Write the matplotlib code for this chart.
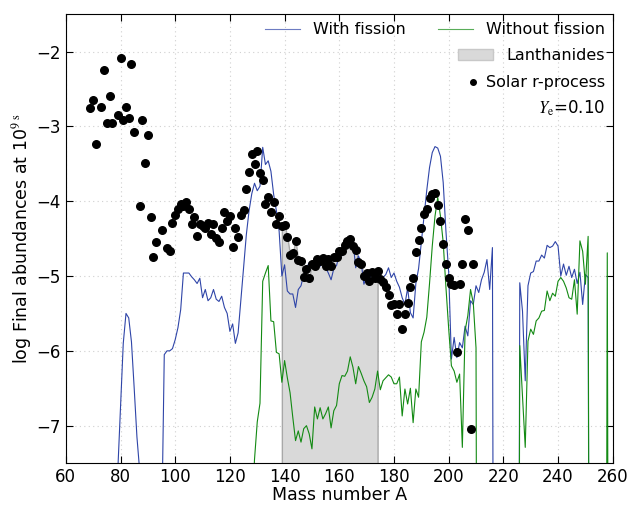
import numpy as np
import matplotlib
matplotlib.use("Agg")
import matplotlib.pyplot as plt
from matplotlib.patches import Patch
from matplotlib.lines import Line2D

plt.rcParams['mathtext.fontset'] = 'stix'
plt.rcParams['font.size'] = 12

LOW = -20.0  # below the plotted range

# solar r-process abundances
solar_A = [69, 70, 71, 73, 74, 75, 76, 77, 79, 80, 81, 82, 83, 84, 85, 87, 88, 89, 90,
           91, 92, 93, 95, 97, 98, 99, 100, 101, 102, 103, 104, 105, 106, 107, 108, 109,
           110, 111, 112, 113, 114, 115, 116, 117, 118, 119, 120, 121, 122, 123, 124,
           125, 126, 127, 128, 129, 130, 131, 132, 133, 134, 135, 136, 137, 138, 139,
           140, 141, 142, 143, 144, 145, 146, 147, 148, 149, 150, 151, 152, 153, 154,
           155, 156, 157, 158, 159, 160, 161, 162, 163, 164, 165, 166, 167, 168, 169,
           170, 171, 172, 173, 174, 175, 176, 177, 178, 179, 180, 181, 182, 183, 184,
           185, 186, 187, 188, 189, 190, 191, 192, 193, 194, 195, 196, 197, 198, 199,
           200, 201, 202, 203, 204, 205, 206, 207, 208, 209]
solar_Y = [-2.75, -2.65, -3.24, -2.74, -2.24, -2.96, -2.60, -2.96, -2.85, -2.09, -2.92,
           -2.74, -2.89, -2.16, -3.08, -4.07, -2.92, -3.49, -3.12, -4.21, -4.74, -4.54,
           -4.39, -4.62, -4.66, -4.29, -4.18, -4.10, -4.04, -4.06, -4.01, -4.11, -4.30,
           -4.21, -4.46, -4.30, -4.33, -4.36, -4.29, -4.44, -4.30, -4.49, -4.55, -4.36,
           -4.15, -4.27, -4.20, -4.61, -4.36, -4.48, -4.19, -4.12, -3.84, -3.61, -3.37,
           -3.50, -3.33, -3.62, -3.72, -4.04, -3.95, -4.14, -4.01, -4.30, -4.20, -4.33,
           -4.32, -4.48, -4.72, -4.69, -4.53, -4.79, -4.80, -5.01, -4.91, -5.02, -4.84,
           -4.86, -4.77, -4.80, -4.76, -4.86, -4.77, -4.86, -4.75, -4.74, -4.66, -4.66,
           -4.58, -4.53, -4.51, -4.60, -4.65, -4.81, -4.84, -5.00, -4.96, -5.07, -4.94,
           -5.03, -4.93, -5.04, -5.08, -5.15, -5.25, -5.39, -5.38, -5.51, -5.38, -5.71,
           -5.51, -5.36, -5.15, -5.02, -4.68, -4.52, -4.36, -4.17, -4.10, -3.96, -3.91,
           -3.89, -4.05, -4.27, -4.57, -4.84, -5.03, -5.11, -5.12, -6.01, -5.11, -4.84,
           -4.24, -4.38, -7.05, -4.84]

# model abundances, A = 78 ... 260
model_A = list(range(78, 261))
with_fission = ([LOW, -7.6, -6.75, -5.90, -5.50, -5.56, -5.88, -6.50, -7.15, -7.6]  # 78-87
                + [LOW] * 7                                                      # 88-94
                + [-8.5, -6.05, -6.00, -6.00, -5.97, -5.85, -5.69, -5.45, -4.96, -4.96,  # 95-104
                   -4.96, -5.01, -5.05, -5.10, -5.03, -5.29, -5.18, -5.33, -5.29, -5.18,  # 105-114
                   -5.31, -5.34, -5.27, -5.42, -5.50, -5.74, -5.64, -5.90, -5.76, -5.33,  # 115-124
                   -4.89, -4.45, -4.13, -3.90, -3.76, -3.86, -3.80, -3.28, -3.51, -3.46,  # 125-134
                   -3.60, -3.91, -4.13, -4.40, -5.00, -4.85, -5.20, -5.24, -5.24, -5.42,  # 135-144
                   -5.18, -5.13, -4.98, -4.89, -4.82, -4.84, -4.86, -4.78, -4.87, -4.82,  # 145-154
                   -4.89, -4.96, -5.05, -4.90, -4.86, -4.71, -4.73, -4.64, -4.58, -4.62,  # 155-164
                   -4.52, -4.89, -4.73, -4.82, -5.11, -5.00, -5.04, -4.96, -5.04, -4.96,  # 165-174
                   -5.04, -5.02, -4.98, -4.89, -5.02, -4.96, -5.07, -5.15, -5.29, -5.38,  # 175-184
                   -5.16, -5.49, -5.56, -5.10, -4.90, -4.55, -4.20, -3.85, -3.55, -3.35,  # 185-194
                   -3.27, -3.29, -3.40, -3.75, -4.40, -4.95, -6.11, -5.82, -6.09, -5.89,  # 195-204
                   -5.96, -5.67, -5.80, -5.33, -5.38, -5.13, -5.22, -5.05, -4.95, -4.78,  # 205-214
                   -5.18, -4.62]                                                     # 215-216
                + [LOW] * 9                                                      # 217-225
                + [-5.09, -5.47, -6.40, -5.13, -4.96, -4.94, -4.80, -4.80, -4.72, -4.76,  # 226-235
                   -4.59, -4.62, -4.60, -4.54, -4.60, -5.00, -4.84, -4.99, -4.87, -5.02,  # 236-245
                   -4.91, -5.10, -4.95, -5.38, -4.98, -5.02]                         # 246-251
                + [LOW] * 9)                                                     # 252-260
without_fission = ([LOW] * 50                                                    # 78-127
                   + [-8.2, -7.45, -6.95, -6.70, -5.07, -4.96, -4.86, -5.60, -5.61, -6.02,  # 128-137
                      -6.04, -6.42, -6.13, -6.36, -6.56, -6.89, -7.20, -7.07, -7.22, -7.04,  # 138-147
                      -7.00, -7.11, -7.31, -6.75, -6.91, -6.76, -6.91, -6.84, -6.75, -7.03,  # 148-157
                      -6.80, -6.73, -6.44, -6.33, -6.34, -6.27, -6.08, -6.22, -6.44, -6.21,  # 158-167
                      -6.30, -6.40, -6.48, -6.69, -6.62, -6.51, -6.27, -6.52, -6.40, -6.36,  # 168-177
                      -6.32, -6.35, -6.44, -6.44, -6.35, -6.87, -6.51, -6.71, -6.50, -6.96,  # 178-187
                      -6.51, -6.62, -5.88, -5.75, -5.55, -5.10, -4.60, -4.20, -3.95, -4.20,  # 188-197
                      -4.55, -5.15, -5.70, -6.20, -6.27, -6.42, -6.31, -7.29, -5.73, -5.53,  # 198-207
                      -5.18, -5.36, -5.96]                                               # 208-210
                   + [LOW] * 15                                                  # 211-225
                   + [-5.93, -6.62, -7.29, -5.87, -5.71, -5.78, -5.60, -5.56, -5.47, -5.46,  # 226-235
                      -5.20, -5.33, -5.23, -5.27, -5.07, -5.02, -5.07, -5.16, -5.29, -5.31,  # 236-245
                      -5.05, -5.51, -4.53, -4.67, -5.11, -4.47]                          # 246-251
                   + [LOW] * 6                                                   # 252-257
                   + [-4.69, LOW, LOW])                                          # 258-260

lan_lo, lan_hi = 139, 174
ye_label = r'$Y_{\rm e}$=0.10'

fig = plt.figure(figsize=(6.33, 5.05), dpi=100)
ax = fig.add_axes([0.104, 0.083, 0.864, 0.889])

sa = np.array(solar_A)
sy = np.array(solar_Y)
m = (sa >= lan_lo) & (sa <= lan_hi)
ax.fill_between(sa[m], sy[m], -8, facecolor='#d9d9d9', edgecolor='#a8a8a8', lw=1.0, zorder=1)

ax.plot(model_A, with_fission, color='#2f45a8', lw=0.8, zorder=2)
ax.plot(model_A, without_fission, color='#138a13', lw=0.8, zorder=2)
ax.scatter(solar_A, solar_Y, s=30, color='black', zorder=3)

ax.set_xlim(60, 260)
ax.set_ylim(-7.5, -1.5)
ax.set_xticks(np.arange(60, 261, 20))
ax.set_yticks([-7, -6, -5, -4, -3, -2])
ax.tick_params(direction='in', top=True, right=True, length=5, labelsize=12)
ax.grid(True, ls=(0, (1, 3)), color='#d0d0d0', lw=0.8)
ax.set_axisbelow(True)
ax.set_xlabel('Mass number A', fontsize=12.5, labelpad=0)
ax.set_ylabel(r'log Final abundances at 10$^{9\ \mathrm{s}}$', fontsize=12.5, labelpad=2)

# legend rows, right aligned like the original
h1 = [Line2D([], [], color='#2f45a8', lw=0.8, alpha=0.7),
      Line2D([], [], color='#138a13', lw=0.8, alpha=0.7)]
leg1 = ax.legend(h1, ['With fission', 'Without fission'], ncol=2, loc='upper right',
                 frameon=False, fontsize=11.5, handlelength=2.2, columnspacing=2.0,
                 borderaxespad=0.1)
ax.add_artist(leg1)
leg2 = ax.legend([Patch(facecolor='#d9d9d9', edgecolor='#c8c8c8')], ['Lanthanides'],
                 loc='upper right', frameon=False, fontsize=11.5, handlelength=2.2,
                 bbox_to_anchor=(1.0, 0.942), borderaxespad=0.1)
ax.add_artist(leg2)
ax.legend([Line2D([], [], ls='none', marker='o', color='black', markersize=4)],
          ['Solar r-process'], loc='upper right', frameon=False, fontsize=11.5,
          handlelength=0.6, handletextpad=0.5,
          bbox_to_anchor=(1.0, 0.882), borderaxespad=0.1)
ax.text(0.985, 0.79, ye_label, transform=ax.transAxes, ha='right', va='center', fontsize=12)

fig.savefig('out.png', dpi=100)
